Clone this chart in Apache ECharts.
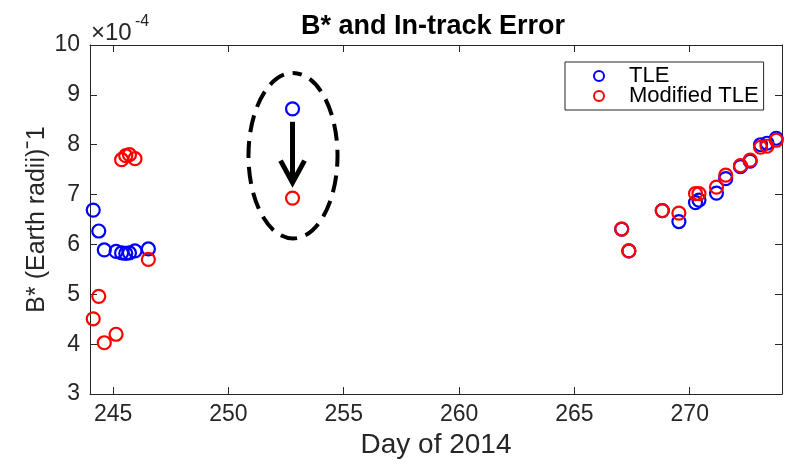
<!DOCTYPE html>
<html>
<head>
<meta charset="utf-8">
<script src="https://cdn.jsdelivr.net/npm/echarts@6/dist/echarts.min.js"></script>
<style>html,body{margin:0;padding:0;background:#fff;}#c{width:786px;height:464px;}</style>
</head>
<body>
<div id="c"></div>
<script>
// Values of B* are in units of 1e-4 (Earth radii)^-1
const days = [244.14, 244.38, 244.62, 245.13, 245.37, 245.55, 245.71, 245.95, 246.53,
  252.78,
  267.05, 267.36, 268.81, 269.53, 270.25, 270.40, 271.16, 271.56, 272.20, 272.62, 273.07, 273.35, 273.75];
const tleValues = [6.69, 6.27, 5.89, 5.86, 5.83, 5.82, 5.83, 5.87, 5.91,
  8.72,
  6.31, 5.87, 6.68, 6.46, 6.84, 6.89, 7.03, 7.32, 7.56, 7.67, 8.00, 8.03, 8.13];
const modifiedValues = [4.51, 4.96, 4.03, 4.20, 7.70, 7.78, 7.80, 7.72, 5.70,
  6.93,
  6.31, 5.87, 6.68, 6.63, 7.02, 7.02, 7.15, 7.39, 7.58, 7.69, 7.95, 7.97, 8.09];
const xTicks = [245, 250, 255, 260, 265, 270];
const yTicks = [3, 4, 5, 6, 7, 8, 9, 10];
// annotation (ellipse around the outlier and arrow), in data units
const ellipseCenter = [252.8, 7.78];
const ellipseRadius = [1.93, 1.66];
const arrowFrom = [252.78, 8.46];
const arrowTo = [252.78, 7.24];

const FONT = 'Liberation Sans, Arial, Helvetica, sans-serif';
const AX = '#262626';
const chart = echarts.init(document.getElementById('c'), null, {renderer: 'canvas'});

function pairs(xs, ys) { return xs.map((x, i) => [x, ys[i]]); }

const baseX = {
  type: 'value', min: 244, max: 274,
  splitLine: {show: false},
  axisLine: {show: true, onZero: false, lineStyle: {color: AX, width: 1}},
  axisTick: {show: true, inside: true, length: 7, customValues: xTicks, lineStyle: {color: AX}},
};
const baseY = {
  type: 'value', min: 3, max: 10, interval: 1,
  splitLine: {show: false},
  axisLine: {show: true, onZero: false, lineStyle: {color: AX, width: 1}},
  axisTick: {show: true, inside: true, length: 7, lineStyle: {color: AX}},
};

const option = {
  backgroundColor: '#fff',
  animation: false,
  title: {
    text: 'B* and In-track Error', left: 428, top: 8, textAlign: 'center',
    textStyle: {fontFamily: FONT, fontWeight: 'bold', fontSize: 27, color: '#000'}
  },
  grid: {left: 90, right: 4, top: 45, bottom: 60, containLabel: false},
  legend: {
    orient: 'vertical', left: 565, top: 62,
    backgroundColor: '#fff',
    borderColor: AX, borderWidth: 1,
    padding: [3, 5, 3, 28],
    itemWidth: 50, itemHeight: 10, itemGap: -2,
    textStyle: {fontFamily: FONT, fontSize: 22, color: '#000'},
    data: ['TLE', 'Modified TLE']
  },
  xAxis: [
    Object.assign({}, baseX, {
      position: 'bottom',
      axisLabel: {show: true, customValues: xTicks, margin: 9, fontFamily: FONT, fontSize: 23, color: AX},
      name: 'Day of 2014', nameLocation: 'middle', nameGap: 32,
      nameTextStyle: {fontFamily: FONT, fontSize: 28, color: AX}
    }),
    Object.assign({}, baseX, {position: 'top', axisLabel: {show: false}})
  ],
  yAxis: [
    Object.assign({}, baseY, {
      position: 'left',
      axisLabel: {show: true, margin: 10, fontFamily: FONT, fontSize: 23, color: AX},
      name: 'B* (Earth radii)\u02C91', nameLocation: 'middle', nameGap: 40, nameRotate: 90,
      nameMoveOverlap: false,
      nameTextStyle: {fontFamily: FONT, fontSize: 25, color: AX}
    }),
    Object.assign({}, baseY, {position: 'right', axisLabel: {show: false}})
  ],
  graphic: [
    {type: 'text', left: 91, top: 21,
     style: {text: '\u00D710', fontSize: 24, fontFamily: FONT, fill: AX}},
    {type: 'text', left: 135, top: 14,
     style: {text: '-4', fontSize: 16, fontFamily: FONT, fill: AX}}
  ],
  series: [
    {
      name: 'TLE', type: 'scatter', xAxisIndex: 0, yAxisIndex: 0,
      symbol: 'circle', symbolSize: 13,
      itemStyle: {color: 'rgba(0,0,0,0)', borderColor: '#0000ff', borderWidth: 2.2, opacity: 1},
      data: pairs(days, tleValues), z: 3
    },
    {
      name: 'Modified TLE', type: 'scatter', xAxisIndex: 0, yAxisIndex: 0,
      symbol: 'circle', symbolSize: 13,
      itemStyle: {color: 'rgba(0,0,0,0)', borderColor: '#ff0000', borderWidth: 2.2, opacity: 1},
      data: pairs(days, modifiedValues), z: 4
    },
    {
      type: 'custom', xAxisIndex: 0, yAxisIndex: 0, silent: true, z: 5,
      data: [[ellipseCenter[0], ellipseCenter[1]]],
      renderItem: function (params, api) {
        const c = api.coord(ellipseCenter);
        const r = api.size(ellipseRadius);
        const rx = r[0], ry = r[1];
        const p = 'M ' + (c[0]) + ' ' + (c[1] - ry) +
          ' A ' + rx + ' ' + ry + ' 0 1 1 ' + c[0] + ' ' + (c[1] + ry) +
          ' A ' + rx + ' ' + ry + ' 0 1 1 ' + c[0] + ' ' + (c[1] - ry) + ' Z';
        const a0 = api.coord(arrowFrom);
        const a1 = api.coord(arrowTo);
        return {
          type: 'group',
          children: [
            {type: 'path', shape: {pathData: p},
             style: {fill: 'none', stroke: '#000', lineWidth: 4, lineDash: [17, 9], lineDashOffset: 8}},
            {type: 'line', shape: {x1: a0[0], y1: a0[1], x2: a1[0], y2: a1[1] - 3},
             style: {stroke: '#000', lineWidth: 5}},
            {type: 'polyline', shape: {points: [[a1[0] - 12, a1[1] - 22], [a1[0], a1[1]], [a1[0] + 12, a1[1] - 22]]},
             style: {fill: 'none', stroke: '#000', lineWidth: 5, lineJoin: 'miter'}}
          ]
        };
      }
    }
  ]
};
chart.setOption(option);
</script>
</body>
</html>
